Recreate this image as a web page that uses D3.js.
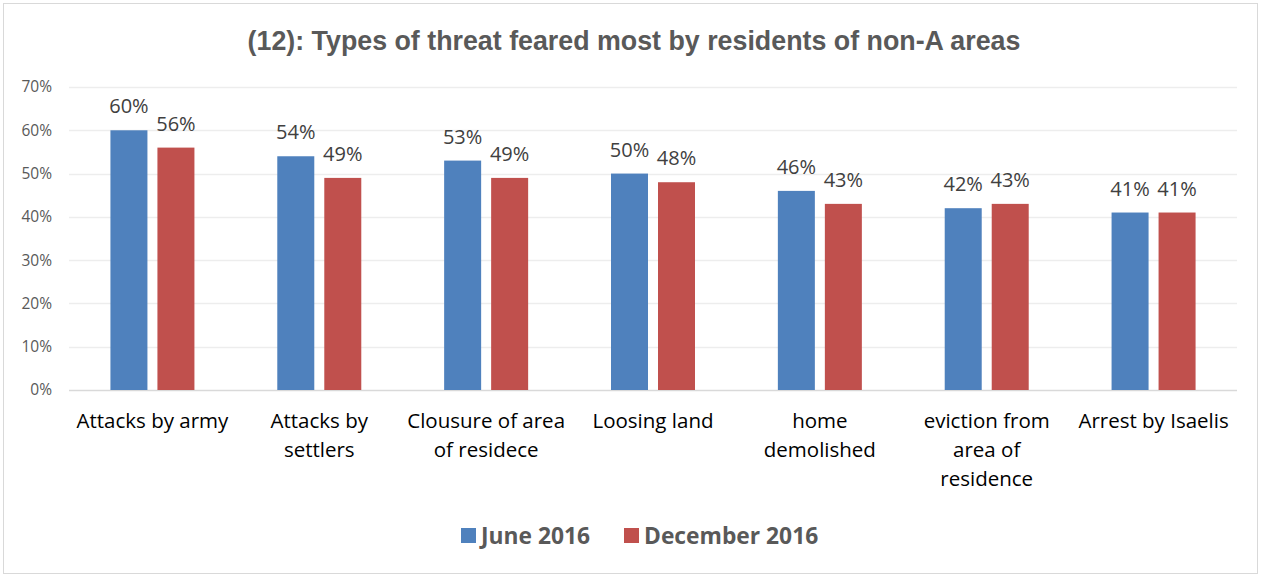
<!DOCTYPE html>
<html>
<head>
<meta charset="utf-8">
<script src="https://cdn.jsdelivr.net/npm/d3@7"></script>
<style>
  body { margin: 0; background: #fff; }
  svg { display: block; }
</style>
</head>
<body>
<svg id="chart" width="1266" height="575"></svg>
<script>
/* chart data */
var categories = [
    ["Attacks by army"],
    ["Attacks by", "settlers"],
    ["Clousure of area", "of residece"],
    ["Loosing land"],
    ["home", "demolished"],
    ["eviction from", "area of", "residence"],
    ["Arrest by Isaelis"]
];
var seriesNames = ["June 2016", "December 2016"];
var june2016 = [60, 54, 53, 50, 46, 42, 41];
var december2016 = [56, 49, 49, 48, 43, 43, 41];
var yTicks = [0, 10, 20, 30, 40, 50, 60, 70];
var colors = ["#4F81BD", "#C0504D"];

var width = 1266, height = 575;
var margin = { top: 87, right: 29, bottom: 185, left: 69 };
var bodyFont = "'Open Sans', sans-serif";

var svg = d3.select("#chart");

/* frame */
svg.append("rect")
    .attr("x", 3.5).attr("y", 3.5)
    .attr("width", 1254).attr("height", 570)
    .attr("fill", "#fff")
    .attr("stroke", "#D9D9D9");

/* title */
svg.append("text")
    .attr("x", 634).attr("y", 50)
    .attr("text-anchor", "middle")
    .attr("font-family", "'Liberation Sans', Arial, sans-serif")
    .attr("font-weight", "bold")
    .attr("font-size", "26.8px")
    .attr("fill", "#595959")
    .text("(12): Types of threat feared most by residents of non-A areas");

var x0 = d3.scaleBand()
    .domain(d3.range(categories.length))
    .range([margin.left, width - margin.right]);

var inner = (x0.bandwidth() - 84) / 2;
var x1 = d3.scaleBand()
    .domain([0, 1])
    .range([inner, x0.bandwidth() - inner])
    .paddingInner(10 / 47);

var y = d3.scaleLinear()
    .domain([0, 70])
    .range([height - margin.bottom, margin.top]);

/* gridlines */
svg.append("g")
    .selectAll("line")
    .data(yTicks)
    .enter()
    .append("line")
    .attr("x1", margin.left)
    .attr("x2", width - margin.right)
    .attr("y1", function(d) { return Math.round(y(d)) + 0.5; })
    .attr("y2", function(d) { return Math.round(y(d)) + 0.5; })
    .attr("stroke", function(d) { return d === 0 ? "#D9D9D9" : "#EDEDED"; })
    .attr("stroke-width", 1.5);

/* y axis labels */
var yAxis = d3.axisLeft(y)
    .tickValues(yTicks)
    .tickFormat(function(d) { return d + "%"; })
    .tickSize(0)
    .tickPadding(17);

var yg = svg.append("g")
    .attr("transform", "translate(" + margin.left + ",0)")
    .call(yAxis);
yg.select(".domain").remove();
yg.selectAll("text")
    .attr("font-family", bodyFont)
    .attr("font-size", "15.5px")
    .attr("fill", "#595959");

/* bars */
var series = [june2016, december2016];
var groups = svg.append("g")
    .selectAll("g")
    .data(series)
    .enter()
    .append("g")
    .attr("fill", function(d, i) { return colors[i]; });

groups.each(function(values, si) {
    var g = d3.select(this);
    g.selectAll("rect")
        .data(values)
        .enter()
        .append("rect")
        .attr("x", function(d, i) { return x0(i) + x1(si); })
        .attr("y", function(d) { return y(d); })
        .attr("width", x1.bandwidth())
        .attr("height", function(d) { return y(0) - y(d); });

    g.selectAll("text")
        .data(values)
        .enter()
        .append("text")
        .attr("x", function(d, i) { return x0(i) + x1(si) + x1.bandwidth() / 2; })
        .attr("y", function(d) { return y(d) - 17; })
        .attr("text-anchor", "middle")
        .attr("font-family", bodyFont)
        .attr("font-size", "20px")
        .attr("fill", "#404040")
        .text(function(d) { return d + "%"; });
});

/* category labels */
var cat = svg.append("g")
    .selectAll("text")
    .data(categories)
    .enter()
    .append("text")
    .attr("x", function(d, i) { return x0(i) + x0.bandwidth() / 2; })
    .attr("y", 428)
    .attr("text-anchor", "middle")
    .attr("font-family", bodyFont)
    .attr("font-size", "20.5px")
    .attr("fill", "#000");

cat.selectAll("tspan")
    .data(function(d) { return d; })
    .enter()
    .append("tspan")
    .attr("x", function() { return d3.select(this.parentNode).attr("x"); })
    .attr("dy", function(d, i) { return i === 0 ? 0 : 29; })
    .text(function(d) { return d; });

/* legend */
var legendX = [461, 624];
var legend = svg.append("g")
    .selectAll("g")
    .data(seriesNames)
    .enter()
    .append("g")
    .attr("transform", function(d, i) { return "translate(" + legendX[i] + ",528)"; });

legend.append("rect")
    .attr("width", 15).attr("height", 15)
    .attr("fill", function(d, i) { return colors[i]; });

legend.append("text")
    .attr("x", 20).attr("y", 15.5)
    .attr("font-family", bodyFont)
    .attr("font-weight", "bold")
    .attr("font-size", "22.8px")
    .attr("fill", "#595959")
    .text(function(d) { return d; });
</script>
</body>
</html>
